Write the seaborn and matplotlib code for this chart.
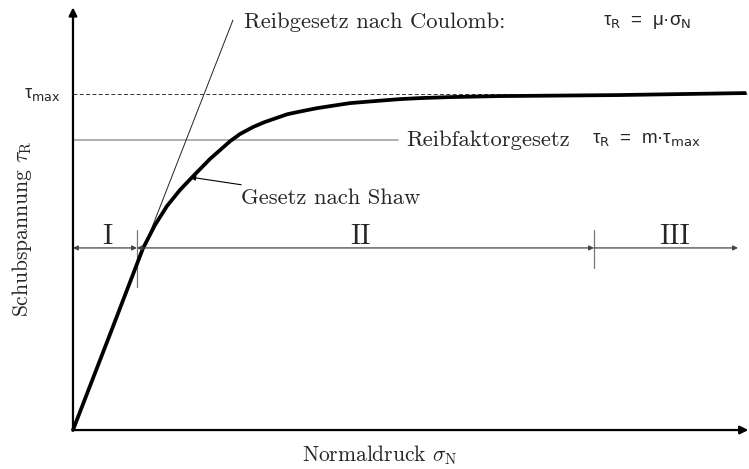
import matplotlib
matplotlib.use("Agg")
import matplotlib.pyplot as plt
import seaborn as sns

# Werte (sigma_N in 0..10, tau in Einheiten von tau_max)
shaw_x = [0, 0.58, 1.04, 1.22, 1.40, 1.59, 1.79, 2.04, 2.34, 2.485, 2.68, 2.857,
          3.19, 3.378, 3.63, 3.824, 4.12, 4.42, 4.87, 5.164, 5.61, 6.35, 8.10, 10.0]
shaw_y = [0, 0.30, 0.54, 0.61, 0.667, 0.714, 0.756, 0.807, 0.86, 0.881, 0.902, 0.917,
          0.94, 0.948, 0.958, 0.964, 0.973, 0.978, 0.985, 0.988, 0.991, 0.994, 0.997, 1.003]

coulomb_x = [0, 2.38]
coulomb_y = [0, 1.22]

tau_max = 1.0
m_faktor = 0.863
reibfaktor_x_end = 4.84

# Bereiche I / II / III
bereich_grenzen = [0.0, 0.952, 7.753, 9.896]
bereich_namen = ["I", "II", "III"]
bereich_y = 0.542

sns.set_theme(style="white")
plt.rcParams["font.family"] = ["cmr10", "DejaVu Serif"]
plt.rcParams["mathtext.fontset"] = "cm"
plt.rcParams["axes.unicode_minus"] = False

fig = plt.figure(figsize=(7.49, 4.69), dpi=100)
ax = fig.add_axes([0, 0, 1, 1])
ax.set_xlim(-1.086, 10.06)
ax.set_ylim(-0.116, 1.280)
ax.axis("off")

# Achsen mit Pfeilen
ax.annotate("", xy=(0, 1.258), xytext=(0, 0),
            arrowprops=dict(arrowstyle="-|>", lw=1.6, color="black",
                            shrinkA=0, shrinkB=0, mutation_scale=12))
ax.annotate("", xy=(10.05, 0), xytext=(0, 0),
            arrowprops=dict(arrowstyle="-|>", lw=1.6, color="black",
                            shrinkA=0, shrinkB=0, mutation_scale=12))

# tau_max gestrichelt, Reibfaktorgesetz grau
ax.plot([0, 10.06], [tau_max, tau_max], ls=(0, (4, 2.5)), lw=0.7, color="#333333")
ax.plot([0, reibfaktor_x_end], [m_faktor, m_faktor], lw=1.1, color="#9a9a9a")

# Coulomb
ax.plot(coulomb_x, coulomb_y, lw=0.7, color="#222222")

# Bemaßung der Bereiche
for i, name in enumerate(bereich_namen):
    a, b = bereich_grenzen[i], bereich_grenzen[i + 1]
    style = "<|-|>" if i < 2 else "<|-"
    ax.annotate("", xy=(a, bereich_y), xytext=(b, bereich_y),
                arrowprops=dict(arrowstyle=style, lw=0.9, color="#444444",
                                shrinkA=0, shrinkB=0, mutation_scale=7))
ax.plot([bereich_grenzen[1]] * 2, [0.426, 0.595], lw=0.9, color="#777777")
ax.plot([bereich_grenzen[2]] * 2, [0.482, 0.595], lw=0.9, color="#777777")
for name, xc in zip(bereich_namen, [0.506, 4.286, 8.958]):
    ax.text(xc, 0.553, name, fontsize=20.5, ha="center", va="baseline")

# Shaw-Kurve
sns.lineplot(x=shaw_x, y=shaw_y, ax=ax, color="black", lw=2.7,
             solid_joinstyle="round", solid_capstyle="round")

# Beschriftungen
sans = ["Liberation Sans", "DejaVu Sans"]
ax.text(2.545, 1.214, "Reibgesetz nach Coulomb:", fontsize=16.3, va="center")
ax.text(7.887, 1.214, r"τ$_{\mathrm{R}}$  =  μ·σ$_{\mathrm{N}}$", fontsize=13.5,
        va="center", family=sans, math_fontfamily="dejavusans")
ax.text(4.955, 0.863, "Reibfaktorgesetz", fontsize=16.3, va="center")
ax.text(7.72, 0.863, r"τ$_{\mathrm{R}}$  =  m·τ$_{\mathrm{max}}$", fontsize=13.5,
        va="center", family=sans, math_fontfamily="dejavusans")
ax.annotate("Gesetz nach Shaw", xy=(1.741, 0.753), xytext=(2.50, 0.690),
            fontsize=16.3, va="center",
            arrowprops=dict(arrowstyle="-|>", lw=0.8, color="black",
                            shrinkA=2, shrinkB=0, mutation_scale=8))
ax.text(-0.193, tau_max, r"τ$_{\mathrm{max}}$", fontsize=13, ha="right",
        va="center", family=sans, math_fontfamily="dejavusans")
ax.text(-0.759, 0.60, r"Schubspannung $\tau_{\mathrm{R}}$", fontsize=15.5,
        rotation=90, ha="center", va="center")
ax.text(4.57, -0.074, r"Normaldruck $\sigma_{\mathrm{N}}$", fontsize=15.5,
        ha="center", va="center")

fig.savefig("out.png", dpi=100)
